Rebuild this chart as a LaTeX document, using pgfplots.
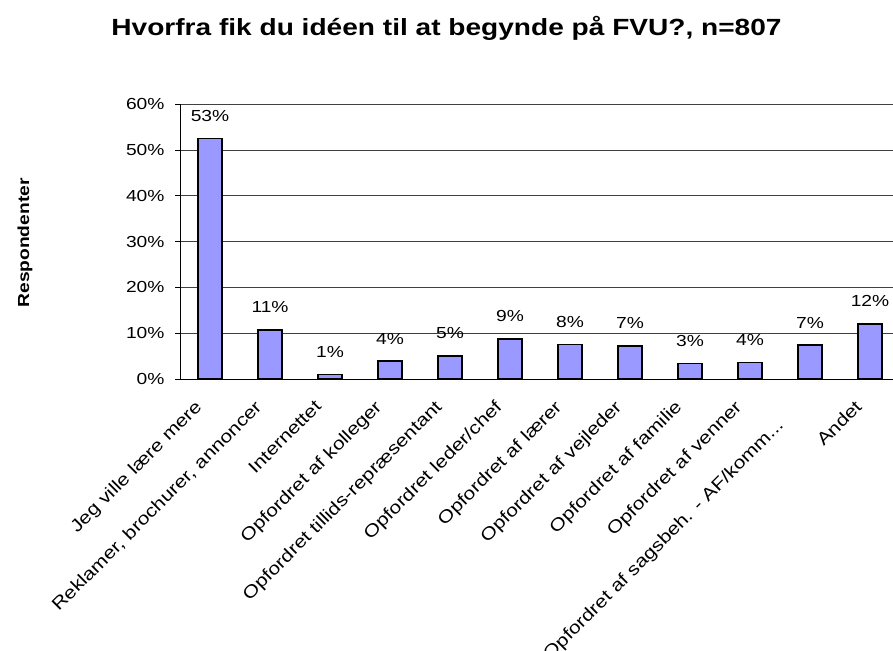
\documentclass[border=0pt]{standalone}
\usepackage{pgfplots}
\pgfplotsset{compat=1.18}
\usepackage{fontspec}
\setmainfont{Liberation Sans}[FakeStretch=1.2]
\definecolor{barfill}{RGB}{153,153,255}
\begin{document}
\begin{tikzpicture}
\useasboundingbox (0pt,0pt) rectangle (893pt,650pt);
\node[font=\bfseries\fontsize{23.4}{27}\selectfont, anchor=base, inner sep=0pt] at (446.5pt,614.5pt) {Hvorfra fik du idéen til at begynde på FVU?, n=807};
\node[font=\bfseries\fontsize{16}{19}\selectfont, rotate=90, inner sep=0pt] at (25pt,407pt) {Respondenter};
\begin{axis}[
  at={(180pt,271pt)}, anchor=south west,
  scale only axis, width=720pt, height=275pt,
  xmin=-0.5, xmax=11.5, ymin=0, ymax=60,
  axis x line*=bottom, axis y line*=left,
  axis line style={black, line width=0.8pt},
  ytick={0,10,...,60},
  yticklabel={\pgfmathprintnumber{\tick}\%},
  yticklabel style={font=\fontsize{16}{19}\selectfont, xshift=-7pt},
  /pgf/number format/assume math mode=true,
  ymajorgrids, grid style={black!75, line width=0.6pt},
  xtick={0,...,11},
  xticklabels={Jeg ville lære mere, {Reklamer, brochurer, annoncer}, Internettet, Opfordret af kolleger, Opfordret tillids-repræsentant, Opfordret leder/chef, Opfordret af lærer, Opfordret af vejleder, Opfordret af familie, Opfordret af venner, {Opfordret af sagsbeh. - AF/komm.{}.{}.\hspace*{26pt}}, Andet},
  xticklabel style={font=\fontsize{17.5}{20}\selectfont, rotate=45, anchor=north east, inner sep=2pt, xshift=-20pt, yshift=3pt},
  minor xtick={-0.5,0.5,...,11.5},
  tick align=outside, major tick length=5pt, minor tick length=5pt,
  xtick style={draw=none},
  minor x tick style={black, line width=0.6pt},
  ytick style={black, line width=0.6pt},
  enlarge x limits=false,
  clip=false,
]
\addplot[ybar, bar width=24pt, fill=barfill, draw=black, line width=1.3pt,
  nodes near coords={\pgfmathprintnumber[fixed,precision=0]{\pgfplotspointmeta}\%},
  nodes near coords style={font=\fontsize{16}{19}\selectfont, yshift=13pt, black}]
coordinates {(0,52.5) (1,10.7) (2,1.0) (3,3.9) (4,5.0) (5,8.7) (6,7.6) (7,7.2) (8,3.4) (9,3.6) (10,7.4) (11,12.0)};
\end{axis}
\end{tikzpicture}
\end{document}
